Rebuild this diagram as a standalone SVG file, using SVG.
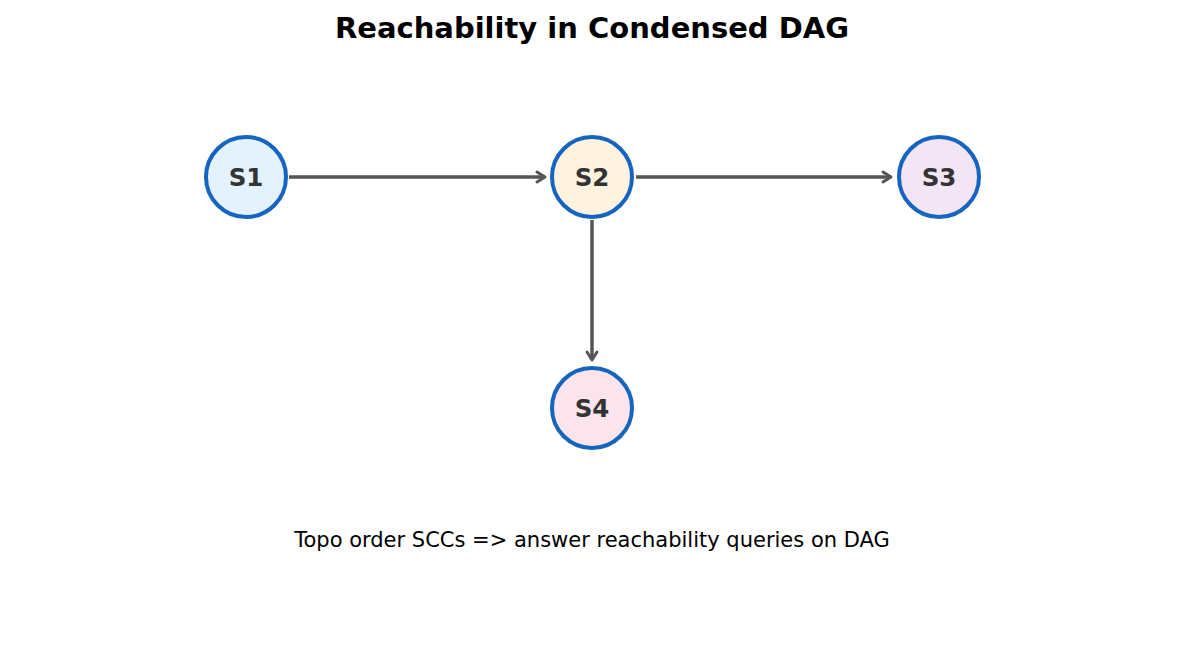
<svg xmlns="http://www.w3.org/2000/svg" width="1185" height="654" viewBox="0 0 1185 654">
<style>
.n{stroke:#1565c0;stroke-width:4}
.l{font-family:"DejaVu Sans",sans-serif;font-weight:bold;font-size:24.5px;fill:#333;text-anchor:middle;dominant-baseline:central}
.e{stroke:#555;stroke-width:3.5;fill:none}
.h{stroke:#555;stroke-width:3;fill:none;stroke-linecap:round;stroke-linejoin:round}
</style>
<rect width="1185" height="654" fill="#fff"/>
<text x="592" y="28" font-family="DejaVu Sans,sans-serif" font-weight="bold" font-size="29" text-anchor="middle" dominant-baseline="central">Reachability in Condensed DAG</text>
<g id="connectors">
<path class="e" d="M289 177H545"/><path class="h" d="M537 172L545 177L537 182"/>
<path class="e" d="M636 177H891"/><path class="h" d="M883 172L891 177L883 182"/>
<path class="e" d="M592 220V360"/><path class="h" d="M587 352L592 360L597 352"/>
</g>
<g id="S1"><circle class="n" cx="246" cy="177" r="40" fill="#e3f2fd"/><text class="l" x="246" y="177">S1</text></g>
<g id="S2"><circle class="n" cx="592" cy="177" r="40" fill="#fff3e0"/><text class="l" x="592" y="177">S2</text></g>
<g id="S3"><circle class="n" cx="939" cy="177" r="40" fill="#f3e5f5"/><text class="l" x="939" y="177">S3</text></g>
<g id="S4"><circle class="n" cx="592" cy="408" r="40" fill="#fce4ec"/><text class="l" x="592" y="408">S4</text></g>
<text x="592" y="540" font-family="DejaVu Sans,sans-serif" font-size="21" text-anchor="middle" dominant-baseline="central">Topo order SCCs =&gt; answer reachability queries on DAG</text>
</svg>
